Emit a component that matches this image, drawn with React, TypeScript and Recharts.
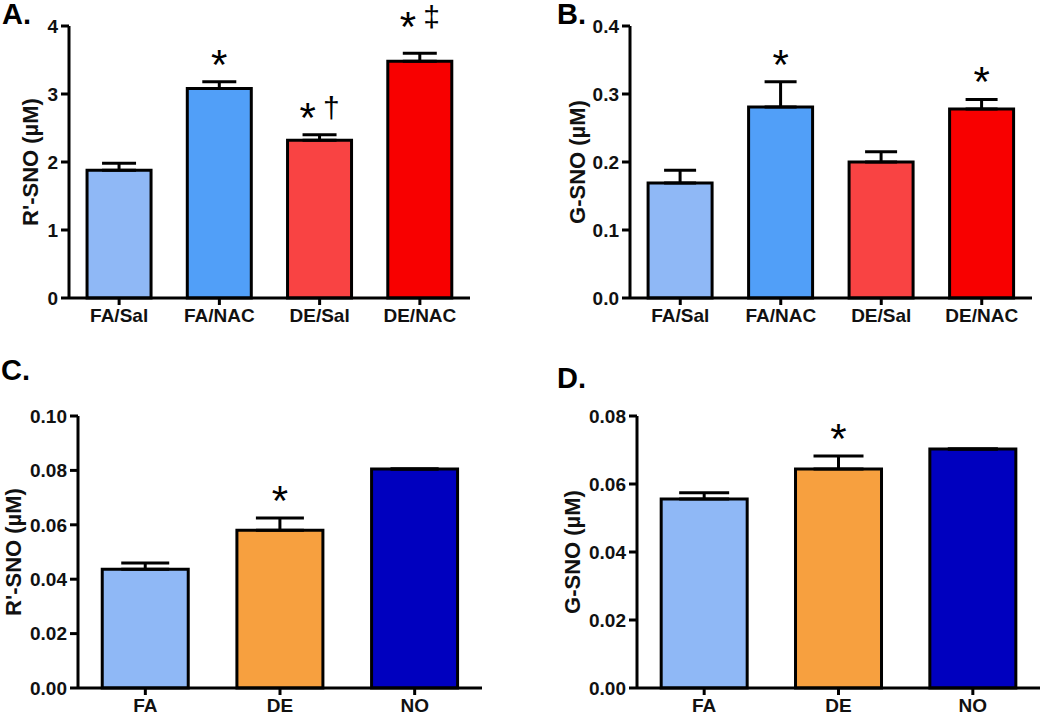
import React from 'react';
import { BarChart, Bar, XAxis, YAxis, ErrorBar, Cell, LabelList } from 'recharts';

const groupsAB = ['FA/Sal', 'FA/NAC', 'DE/Sal', 'DE/NAC'];
const groupsCD = ['FA', 'DE', 'NO'];

// panel A: R'-SNO, panel B: G-SNO (mean, SEM)
const rsnoA = [1.88, 3.08, 2.32, 3.48];
const rsnoAErr = [0.1, 0.1, 0.08, 0.12];
const gsnoB = [0.169, 0.281, 0.2, 0.278];
const gsnoBErr = [0.019, 0.037, 0.015, 0.014];
// panel C / D
const rsnoC = [0.0437, 0.058, 0.0805];
const rsnoCErr = [0.0023, 0.0045, 0];
const gsnoD = [0.0556, 0.0644, 0.0703];
const gsnoDErr = [0.0018, 0.0038, 0];

const notesA = ['', '*', '*†', '*‡'];
const notesB = ['', '*', '', '*'];
const notesC = ['', '*', ''];
const notesD = ['', '*', ''];

const ticksA = [0, 1, 2, 3, 4];
const ticksB = [0, 0.1, 0.2, 0.3, 0.4];
const ticksC = [0, 0.02, 0.04, 0.06, 0.08, 0.1];
const ticksD = [0, 0.02, 0.04, 0.06, 0.08];

const colorsAB = ['#8fb8f6', '#519ff8', '#f94343', '#f80000'];
const colorsCD = ['#8fb8f6', '#f7a03f', '#0000bf'];

const FONT = '"Liberation Sans", Arial, sans-serif';

type PanelProps = {
    left: number; top: number; width: number; height: number;
    yWidth: number; marginTop: number; marginRight: number; xHeight: number;
    names: string[]; values: number[]; errs: number[]; notes: string[]; colors: string[];
    ticks: number[]; decimals: number; yLabel: string; labelDx: number; capWidth: number;
};

const Panel: React.FC<PanelProps> = (p) => {
    const data = p.names.map((name, i) => ({ name, value: p.values[i], err: [0, p.errs[i]], note: p.notes[i] }));

    const renderNote = (props: any) => {
        const vb = props.viewBox || props;
        const { x, y, width, height } = vb;
        const i = props.index;
        if (!props.value) return null;
        const pxPerUnit = height / p.values[i];
        const errTop = y - p.errs[i] * pxPerUnit;
        const note = String(props.value);
        const lift = note.includes('‡') ? 9 : 0;
        return (
            <text x={x + width / 2} y={errTop - 3 - lift} textAnchor="middle" fontFamily={FONT} fill="#000">
                <tspan fontSize={42}>{note[0]}</tspan>
                {note.length > 1 && <tspan fontSize={30} dx={7} dy={-14}>{note.slice(1)}</tspan>}
            </text>
        );
    };

    const renderYLabel = (props: any) => {
        const vb = props.viewBox;
        const cx = vb.x + vb.width - p.labelDx;
        const cy = vb.y + vb.height / 2;
        return (
            <text x={cx} y={cy} transform={`rotate(-90, ${cx}, ${cy})`} textAnchor="middle" dominantBaseline="central"
                fontSize={22} fontWeight="bold" fontFamily={FONT} fill="#111">
                {p.yLabel}
            </text>
        );
    };

    const axisStyle = { stroke: '#000', strokeWidth: 3 };
    const tickStyle = { fill: '#111', fontSize: 19, fontWeight: 'bold', fontFamily: FONT };

    return (
        <div style={{ position: 'absolute', left: p.left, top: p.top }}>
            <BarChart width={p.width} height={p.height} data={data} barCategoryGap="18%"
                margin={{ top: p.marginTop, right: p.marginRight, left: 0, bottom: 0 }}>
                <XAxis dataKey="name" interval={0} height={p.xHeight} axisLine={axisStyle} tickLine={axisStyle}
                    tickSize={7} tickMargin={4} tick={tickStyle} />
                <YAxis width={p.yWidth} domain={[p.ticks[0], p.ticks[p.ticks.length - 1]]} ticks={p.ticks}
                    interval={0} axisLine={axisStyle} tickLine={axisStyle} tickSize={8} tickMargin={3}
                    tick={tickStyle} tickFormatter={(v: number) => v.toFixed(p.decimals)} label={renderYLabel} />
                <Bar dataKey="value" stroke="#000" strokeWidth={3} isAnimationActive={false}>
                    {data.map((d, i) => <Cell key={d.name} fill={p.colors[i]} />)}
                    <ErrorBar dataKey="err" width={p.capWidth} stroke="#000" strokeWidth={3} direction="y" />
                    <LabelList dataKey="note" content={renderNote} />
                </Bar>
            </BarChart>
        </div>
    );
};

const letters = [
    { t: 'A.', x: 2, y: 24 },
    { t: 'B.', x: 557, y: 24 },
    { t: 'C.', x: 1, y: 380 },
    { t: 'D.', x: 557, y: 388 },
];

export default function App() {
    return (
        <div style={{ position: 'absolute', left: 0, top: 0, width: 1050, height: 715, background: '#fff', overflow: 'hidden' }}>
            <Panel left={0} top={0} width={490} height={340} yWidth={69} marginTop={26} marginRight={20} xHeight={42}
                names={groupsAB} values={rsnoA} errs={rsnoAErr} notes={notesA} colors={colorsAB}
                ticks={ticksA} decimals={0} yLabel="R'-SNO (µM)" labelDx={39} capWidth={17} />
            <Panel left={520} top={0} width={530} height={340} yWidth={110} marginTop={26} marginRight={18} xHeight={42}
                names={groupsAB} values={gsnoB} errs={gsnoBErr} notes={notesB} colors={colorsAB}
                ticks={ticksB} decimals={1} yLabel="G-SNO (µM)" labelDx={53} capWidth={16} />
            <Panel left={0} top={360} width={520} height={355} yWidth={78} marginTop={56} marginRight={38} xHeight={27}
                names={groupsCD} values={rsnoC} errs={rsnoCErr} notes={notesC} colors={colorsCD}
                ticks={ticksC} decimals={2} yLabel="R'-SNO (µM)" labelDx={65} capWidth={24} />
            <Panel left={520} top={360} width={530} height={355} yWidth={117} marginTop={56} marginRight={10} xHeight={27}
                names={groupsCD} values={gsnoD} errs={gsnoDErr} notes={notesD} colors={colorsCD}
                ticks={ticksD} decimals={2} yLabel="G-SNO (µM)" labelDx={65} capWidth={25} />
            <svg width={1050} height={715} style={{ position: 'absolute', left: 0, top: 0, pointerEvents: 'none' }}>
                {letters.map(l => (
                    <text key={l.t} x={l.x} y={l.y} fontSize={29} fontWeight="bold" fontFamily={FONT} fill="#000">{l.t}</text>
                ))}
            </svg>
        </div>
    );
}
